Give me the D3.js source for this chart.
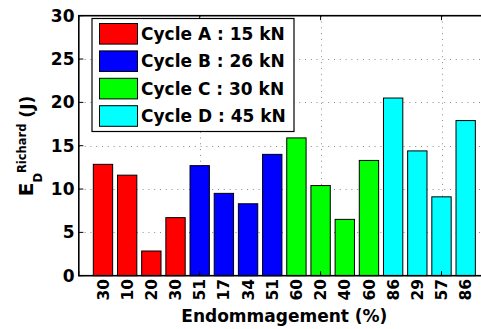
<!DOCTYPE html>
<html>
<head>
<meta charset="utf-8">
<script src="https://cdn.jsdelivr.net/npm/d3@7"></script>
<style>
  html, body { margin: 0; padding: 0; background: #fff; }
  svg { display: block; }
  text { font-family: "DejaVu Sans", "Liberation Sans", sans-serif; font-weight: bold; fill: #000; }
</style>
</head>
<body>
<svg id="chart" width="481" height="329"></svg>
<script>
// Damage level labels under each bar
const damageLabels = ["30","10","20","30","51","17","34","51","60","20","40","60","86","29","57","86"];
// Energy per cycle (J)
const cycleA = [12.85, 11.6, 2.85, 6.7];
const cycleB = [12.7, 9.5, 8.3, 14.0];
const cycleC = [15.9, 10.4, 6.5, 13.3];
const cycleD = [20.5, 14.4, 9.1, 17.9];
const seriesNames = ["Cycle A : 15 kN", "Cycle B : 26 kN", "Cycle C : 30 kN", "Cycle D : 45 kN"];
const seriesColors = ["#ff0000", "#0000ff", "#00ff00", "#00ffff"];
const yTicks = [0, 5, 10, 15, 20, 25, 30];
const xTicks = [0, 5, 10, 15];

const allSeries = [cycleA, cycleB, cycleC, cycleD];
const bars = [];
allSeries.forEach((vals, s) => vals.forEach(v => bars.push({ s, v })));
bars.forEach((b, i) => { b.pos = i + 1; b.label = damageLabels[i]; });

const svg = d3.select("#chart");
const plotLeft = 78.8, plotTop = 15.7, plotBottom = 275.7;
const x = d3.scaleLinear().domain([0, 17]).range([plotLeft, plotLeft + 17 * 24.18]);
const y = d3.scaleLinear().domain([0, 30]).range([plotBottom, plotTop]);
const plotRight = x(17);

svg.append("rect").attr("width", 481).attr("height", 329).attr("fill", "#fff");

// dotted grid
const grid = svg.append("g").attr("stroke", "#8a8a8a").attr("stroke-width", 1).attr("stroke-dasharray", "1,4.8");
grid.selectAll("line.h").data(yTicks.filter(t => t > 0 && t < 30)).join("line")
  .attr("x1", plotLeft).attr("x2", plotRight)
  .attr("y1", d => Math.round(y(d)) + 0.5).attr("y2", d => Math.round(y(d)) + 0.5);
grid.selectAll("line.v").data(xTicks.filter(t => t > 0)).join("line")
  .attr("y1", plotTop).attr("y2", plotBottom)
  .attr("x1", d => Math.round(x(d)) + 0.5).attr("x2", d => Math.round(x(d)) + 0.5);

// bars
const bw = x(0.8) - x(0);
svg.append("g").selectAll("rect").data(bars).join("rect")
  .attr("x", d => x(d.pos) - bw / 2)
  .attr("width", bw)
  .attr("y", d => y(d.v))
  .attr("height", d => y(0) - y(d.v))
  .attr("fill", d => seriesColors[d.s])
  .attr("stroke", "#000")
  .attr("stroke-width", 1);

// axes box
svg.append("rect").attr("x", plotLeft).attr("y", plotTop)
  .attr("width", plotRight - plotLeft).attr("height", plotBottom - plotTop)
  .attr("fill", "none").attr("stroke", "#000").attr("stroke-width", 1.6);

// tick marks pointing inward
const tickLen = 4.5;
const ticks = svg.append("g").attr("stroke", "#000").attr("stroke-width", 1);
yTicks.forEach(t => {
  ticks.append("line").attr("x1", plotLeft).attr("x2", plotLeft + tickLen).attr("y1", y(t)).attr("y2", y(t));
});
xTicks.forEach(t => {
  ticks.append("line").attr("x1", x(t)).attr("x2", x(t)).attr("y1", plotBottom).attr("y2", plotBottom - tickLen);
  ticks.append("line").attr("x1", x(t)).attr("x2", x(t)).attr("y1", plotTop).attr("y2", plotTop + tickLen);
});

// y tick labels
svg.append("g").selectAll("text").data(yTicks).join("text")
  .attr("x", 74.5).attr("y", d => y(d)).attr("dy", "0.36em")
  .attr("text-anchor", "end").attr("font-size", 17)
  .text(d => d);

// rotated damage labels
svg.append("g").selectAll("text").data(bars).join("text")
  .attr("transform", d => `translate(${x(d.pos)},279) rotate(-90)`)
  .attr("text-anchor", "end").attr("dy", "0.36em").attr("font-size", 15.5)
  .text(d => d.label);

// x axis title
svg.append("text").attr("x", (plotLeft + plotRight) / 2).attr("y", 322)
  .attr("text-anchor", "middle").attr("font-size", 17)
  .text("Endommagement (%)");

// y axis title: E_D^Richard (J)
const yt = svg.append("text")
  .attr("transform", `translate(33.3,146) rotate(-90)`)
  .attr("text-anchor", "middle");
yt.append("tspan").attr("font-size", 20).text("E");
yt.append("tspan").attr("font-size", 11.5).attr("dy", 9).text("D");
yt.append("tspan").attr("font-size", 11.5).attr("dy", -16).text("Richard");
yt.append("tspan").attr("font-size", 17).attr("dy", 7).text("\u00a0(J)");

// legend
const lg = svg.append("g");
lg.append("rect").attr("x", 92).attr("y", 18.5).attr("width", 202).attr("height", 113)
  .attr("fill", "#fff").attr("stroke", "#000").attr("stroke-width", 1.2);
seriesNames.forEach((name, i) => {
  const cy = 33.8 + i * 27.4;
  lg.append("rect").attr("x", 99.5).attr("y", cy - 10.3).attr("width", 38).attr("height", 20.6)
    .attr("fill", seriesColors[i]).attr("stroke", "#000").attr("stroke-width", 1);
  lg.append("text").attr("x", 141).attr("y", cy).attr("dy", "0.37em")
    .attr("font-size", 17).text(name);
});
</script>
</body>
</html>
